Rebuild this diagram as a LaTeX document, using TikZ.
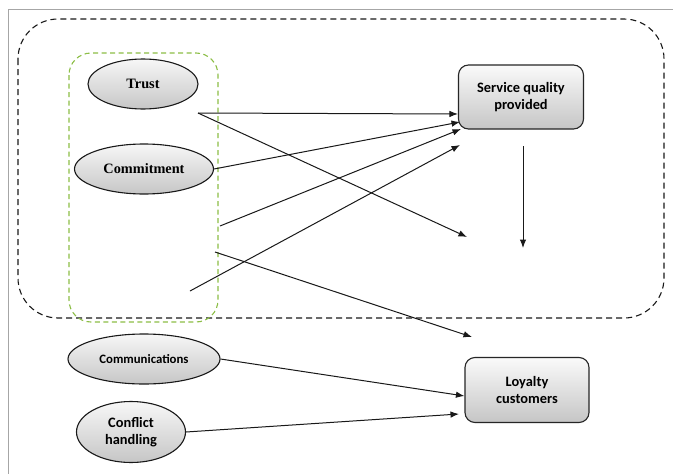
\documentclass[tikz,border=0pt]{standalone}
\usepackage{fontspec}
\setmainfont{Liberation Serif}
\newfontfamily\calfont{Carlito}
\usetikzlibrary{arrows.meta,shapes.geometric}
\definecolor{grn}{RGB}{140,190,70}
\tikzset{
  ell/.style={ellipse, draw=black!90, line width=1.1pt, top color=gray!6, bottom color=gray!45, inner sep=0pt, align=center},
  rbox/.style={rounded corners=10pt, draw=black!85, line width=1.1pt, top color=gray!4, bottom color=gray!45, inner sep=0pt, align=center, minimum width=125pt, minimum height=64pt},
  serifb/.style={font=\fontsize{14.3}{17}\selectfont\bfseries},
  calb/.style={font=\calfont\fontsize{14.4}{17.5}\selectfont\bfseries},
  arr/.style={-{Latex[length=8.5pt,width=6.5pt]}, line width=1pt, black!90},
}
\begin{document}
\begin{tikzpicture}[x=1pt,y=-1pt]
\useasboundingbox (0,0) rectangle (673,474);
\fill[white] (0,0) rectangle (673,474);
% outer frame
\draw[gray!70, line width=0.9pt] (8,474) -- (8,9) -- (673,9);
% big dashed region
\draw[dash pattern=on 6pt off 4pt, line width=1.1pt, black!90, rounded corners=40pt] (18,19) rectangle (664,318);
% green group
\draw[grn, dash pattern=on 5pt off 3.5pt, line width=1.1pt, rounded corners=22pt] (69,53) rectangle (218,322);
% nodes
\node[ell, serifb, minimum width=110pt, minimum height=50pt] (trust) at (143,84) {Trust};
\node[ell, serifb, minimum width=139pt, minimum height=50pt] (commit) at (144,169) {Commitment};
\node[ell, font=\calfont\fontsize{12.8}{15}\selectfont\bfseries, minimum width=152pt, minimum height=50pt] (comm) at (144,359) {Communications};
\node[ell, calb, minimum width=109pt, minimum height=61pt] (conf) at (131,432) {Conflict\\handling};
\node[rbox, calb] (sq) at (521,97) {Service quality\\provided};
\node[rbox, calb, minimum width=124pt, minimum height=65pt] (loy) at (527,390) {Loyalty\\customers};
% free-end coordinates
\coordinate (t0) at (198,113);
\coordinate (a2) at (467,237);
\coordinate (s1) at (220,226);
\coordinate (s2) at (190,291);
\coordinate (s2e) at (460,145);
\coordinate (s3) at (215,252);
\coordinate (s3e) at (472,337);
\coordinate (v0) at (523,146);
\coordinate (v1) at (523,248);
% connectors
\draw[arr] (t0) -- (sq.west |- 0,114) ;
\draw[arr] (t0) -- (a2);
\draw[arr] (commit.east) -- (460,122);
\draw[arr] (s1) -- (461,129);
\draw[arr] (s2) -- (s2e);
\draw[arr] (s3) -- (s3e);
\draw[arr] (v0) -- (v1);
\draw[arr] (comm.east) -- (loy.west |- 0,396);
\draw[arr] (conf.east) -- (459,414);
\end{tikzpicture}
\end{document}
